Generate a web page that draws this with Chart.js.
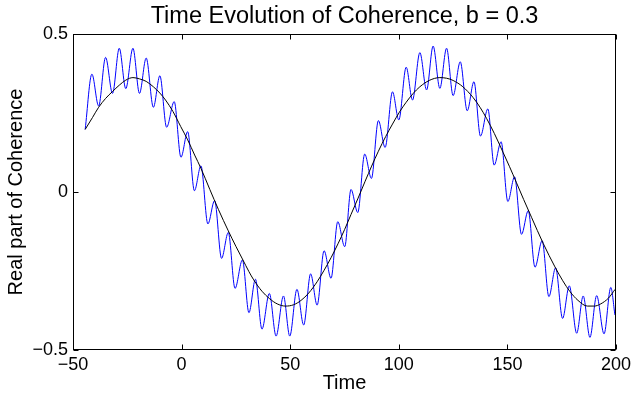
<!DOCTYPE html>
<html lang="en">
<head>
<meta charset="UTF-8">
<title>Time Evolution of Coherence</title>
<script src="https://cdn.jsdelivr.net/npm/chart.js"></script>
<style>
    body { margin: 0; background: #fff; }
    #wrap { width: 632px; height: 401px; }
</style>
</head>
<body>
<div id="wrap"><canvas id="chart" width="632" height="401"></canvas></div>
<script>
// values
const blueT = [-44.4, -41.3, -38.2, -35.0, -31.8, -28.7, -25.7, -22.4, -19.4, -16.3, -13.0, -10.0,
    -6.9, -3.4, -0.3, 2.8, 5.9, 8.9, 12.1, 15.2, 18.4, 21.5, 24.6, 28.0, 31.0, 34.0, 37.0, 40.4,
    43.5, 46.9, 49.8, 53.1, 56.2, 59.4, 62.4, 65.6, 68.8, 71.9, 75.1, 78.0, 81.1, 84.3, 87.4,
    90.6, 93.7, 97.1, 100.0, 103.4, 106.3, 109.7, 112.8, 115.8, 118.9, 122.0, 125.0, 128.3,
    131.5, 134.6, 137.6, 141.0, 143.9, 147.1, 150.2, 153.3, 156.5, 159.6, 162.7, 166.0, 169.1,
    172.2, 175.4, 178.5, 181.9, 184.9, 188.0, 191.1, 194.5, 197.6, 199.5];
const blueV = [0.198, 0.373, 0.272, 0.426, 0.312, 0.455, 0.327, 0.455, 0.312, 0.424, 0.268, 0.368,
    0.205, 0.286, 0.110, 0.191, 0.004, 0.083, -0.101, -0.027, -0.210, -0.128, -0.305, -0.215,
    -0.382, -0.276, -0.434, -0.321, -0.456, -0.329, -0.456, -0.308, -0.421, -0.259, -0.358,
    -0.186, -0.273, -0.094, -0.173, 0.008, -0.065, 0.120, 0.043, 0.226, 0.141, 0.317, 0.228,
    0.395, 0.291, 0.441, 0.323, 0.462, 0.328, 0.455, 0.305, 0.412, 0.257, 0.349, 0.177, 0.263,
    0.085, 0.159, -0.030, 0.048, -0.134, -0.059, -0.238, -0.154, -0.331, -0.240, -0.400, -0.297,
    -0.447, -0.329, -0.460, -0.328, -0.449, -0.302, -0.389];

const blackT = [-44.4, -41, -38.2, -35, -31.8, -28.7, -25.7, -22.4, -19.4, -16.3, -13.0, -10, -7.4,
    -4, -0.4, 2.8, 6, 8.9, 13.0, 17, 21.5, 25, 28.0, 31, 33.2, 37, 40.4, 44, 47.8, 51.5, 55.0,
    58.5, 62.4, 65.5, 68.8, 72, 75.1, 78, 81.1, 84.5, 87.5, 90.6, 94, 97.1, 100.3, 103.4, 106.5,
    109.7, 114, 118.9, 122, 125.0, 129.5, 134.2, 137.5, 140.4, 144, 148.1, 151, 154.2, 157.5,
    161.1, 166.5, 171.9, 175.5, 178.8, 182.5, 186.8, 190, 193.0, 196.5, 199.6];
const blackV = [0.198, 0.236, 0.268, 0.296, 0.318, 0.338, 0.354, 0.362, 0.358, 0.350, 0.333, 0.313,
    0.291, 0.255, 0.207, 0.165, 0.117, 0.075, 0.008, -0.056, -0.123, -0.172, -0.212, -0.252,
    -0.278, -0.314, -0.337, -0.354, -0.361, -0.357, -0.343, -0.320, -0.284, -0.249, -0.208,
    -0.164, -0.118, -0.071, -0.022, 0.034, 0.082, 0.129, 0.176, 0.215, 0.253, 0.284, 0.311,
    0.333, 0.353, 0.362, 0.360, 0.353, 0.333, 0.299, 0.267, 0.233, 0.185, 0.124, 0.080, 0.029,
    -0.024, -0.080, -0.163, -0.237, -0.281, -0.315, -0.343, -0.361, -0.361, -0.354, -0.336, -0.308];

const xTicks = [-50, 0, 50, 100, 150, 200];
const yTicks = [-0.5, 0, 0.5];

const FONT = "'Liberation Sans', Arial, Helvetica, sans-serif";

function minus(v) {
    return String(v).replace('-', '\u2212');
}

// MATLAB-like box with inward ticks on all four sides
const boxPlugin = {
    id: 'box',
    afterDraw(chart) {
        const ctx = chart.ctx;
        const a = chart.chartArea;
        const xs = chart.scales.x, ys = chart.scales.y;
        const l = Math.round(a.left) + 0.5, r = Math.round(a.right) - 0.5;
        const t = Math.round(a.top) + 0.5, b = Math.round(a.bottom) - 0.5;
        ctx.save();
        ctx.strokeStyle = '#000';
        ctx.lineWidth = 1;
        ctx.beginPath();
        xTicks.forEach(v => {
            const px = Math.round(xs.getPixelForValue(v)) + 0.5;
            ctx.moveTo(px, b); ctx.lineTo(px, b - 5);
            ctx.moveTo(px, t); ctx.lineTo(px, t + 5);
        });
        yTicks.forEach(v => {
            const py = Math.round(ys.getPixelForValue(v)) + 0.5;
            ctx.moveTo(l, py); ctx.lineTo(l + 5, py);
            ctx.moveTo(r, py); ctx.lineTo(r - 5, py);
        });
        ctx.stroke();
        ctx.strokeRect(l, t, r - l, b - t);
        ctx.restore();
    }
};

new Chart(document.getElementById('chart'), {
    type: 'line',
    data: {
        datasets: [{
            label: 'mean',
            data: blackT.map((t, i) => ({ x: t, y: blackV[i] })),
            borderColor: '#000000',
            borderWidth: 1,
            pointRadius: 0,
            cubicInterpolationMode: 'monotone',
            fill: false
        }, {
            label: 'coherence',
            data: blueT.map((t, i) => ({ x: t, y: blueV[i] })),
            borderColor: '#0000ff',
            borderWidth: 1,
            pointRadius: 0,
            cubicInterpolationMode: 'monotone',
            fill: false
        }]
    },
    options: {
        responsive: false,
        animation: false,
        layout: { padding: { left: 0, right: 16, top: 0, bottom: 0 } },
        plugins: {
            legend: { display: false },
            tooltip: { enabled: false },
            title: {
                display: true,
                fullSize: false,
                text: 'Time Evolution of Coherence, b = 0.3',
                color: '#000',
                font: { family: FONT, size: 23.5, weight: 'normal', lineHeight: 1.2 },
                padding: { top: 2, bottom: 3.8 }
            }
        },
        scales: {
            x: {
                type: 'linear',
                min: -50,
                max: 200,
                grid: { display: false, drawTicks: false },
                border: { display: false },
                afterBuildTicks: s => { s.ticks = xTicks.map(v => ({ value: v })); },
                afterFit: s => { s.height = 51; s.paddingLeft = 0; s.paddingRight = 0; },
                ticks: {
                    color: '#000',
                    padding: 4,
                    maxRotation: 0,
                    font: { family: FONT, size: 18 },
                    callback: v => minus(v)
                },
                title: {
                    display: true,
                    text: 'Time',
                    color: '#000',
                    font: { family: FONT, size: 20, lineHeight: 1.2 },
                    padding: { top: 0, bottom: 6 }
                }
            },
            y: {
                type: 'linear',
                min: -0.5,
                max: 0.5,
                grid: { display: false, drawTicks: false },
                border: { display: false },
                afterBuildTicks: s => { s.ticks = yTicks.map(v => ({ value: v })); },
                afterFit: s => { s.width = 73; s.paddingTop = 0; s.paddingBottom = 0; },
                ticks: {
                    color: '#000',
                    padding: 5,
                    font: { family: FONT, size: 18 },
                    callback: v => minus(v)
                },
                title: {
                    display: true,
                    text: 'Real part of Coherence',
                    color: '#000',
                    font: { family: FONT, size: 20, lineHeight: 1.2 },
                    padding: { top: 4, bottom: 0 }
                }
            }
        }
    },
    plugins: [boxPlugin]
});
</script>
</body>
</html>
